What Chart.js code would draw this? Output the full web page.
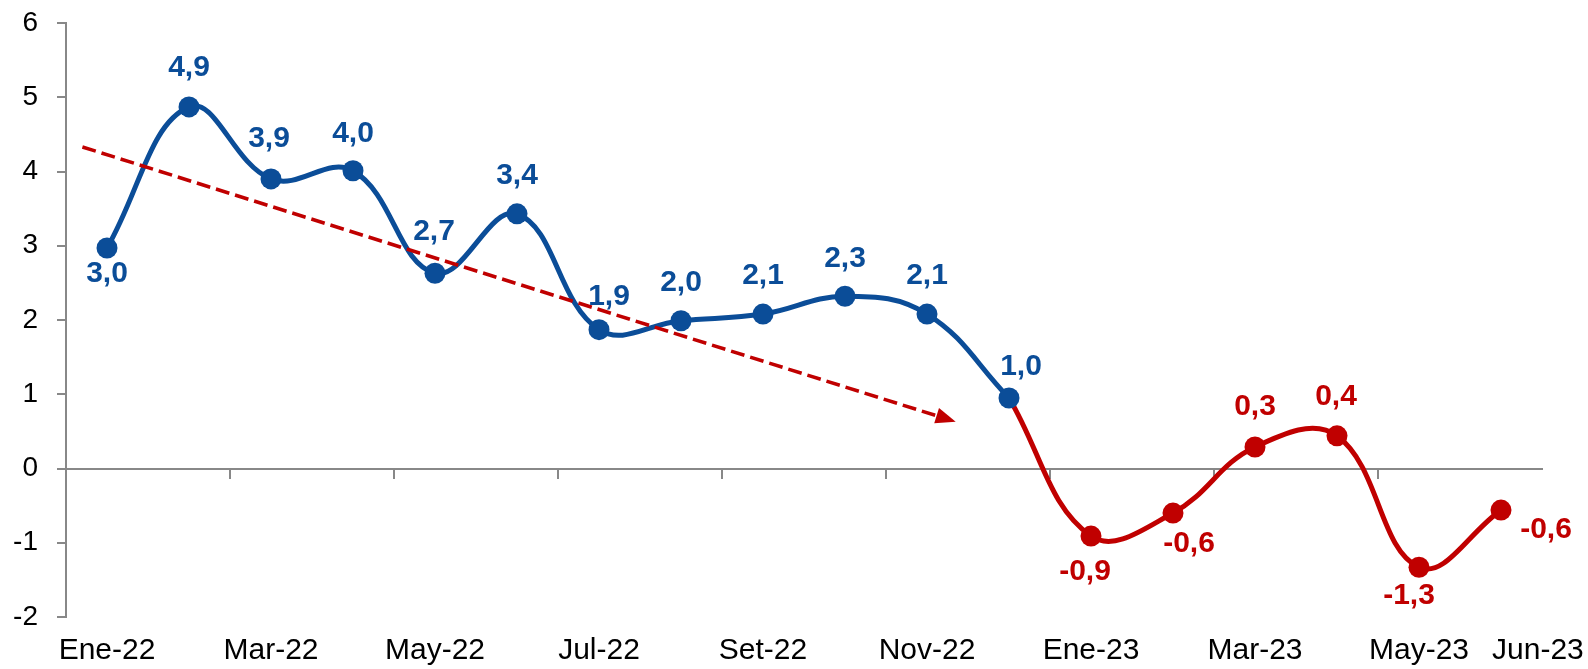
<!DOCTYPE html>
<html>
<head>
<meta charset="utf-8">
<script src="https://cdn.jsdelivr.net/npm/chart.js@4/dist/chart.umd.min.js"></script>
<style>
  html, body { margin: 0; padding: 0; background: #fff; }
  #wrap { width: 1588px; height: 669px; }
</style>
</head>
<body>
<div id="wrap"><canvas id="chart"></canvas></div>
<script>
// Months on the category axis
const months = ['Ene-22', 'Feb-22', 'Mar-22', 'Abr-22', 'May-22', 'Jun-22', 'Jul-22', 'Ago-22',
  'Set-22', 'Oct-22', 'Nov-22', 'Dic-22', 'Ene-23', 'Feb-23', 'Mar-23', 'Abr-23', 'May-23', 'Jun-23'];

// Values (blue part: Ene-22..Dic-22, red part: Ene-23..Jun-23)
const values2022 = [2.97, 4.87, 3.90, 4.01, 2.63, 3.43, 1.87, 1.99, 2.08, 2.32, 2.08, 0.95];
const values2023 = [-0.91, -0.60, 0.29, 0.44, -1.33, -0.56];

// Printed value labels
const pointLabels = ['3,0', '4,9', '3,9', '4,0', '2,7', '3,4', '1,9', '2,0', '2,1', '2,3', '2,1', '1,0',
  '-0,9', '-0,6', '0,3', '0,4', '-1,3', '-0,6'];

// Where the bottom month labels sit (category index; Jun-23 is nudged right as in the original)
const monthTickSpots = [0, 2, 4, 6, 8, 10, 12, 14, 16, 17.45];

// Dashed trend arrow, start and end in (category index, value)
const trendStart = [-0.3, 4.33];
const trendEnd = [10.35, 0.63];

// Label offsets from each point, px
const labelOffsets = [[0, 26], [0, -39], [-2, -40], [0, -37], [-1, -41], [0, -38], [10, -33], [0, -38],
  [0, -38], [0, -38], [0, -38], [12, -31], [-6, 36], [16, 31], [0, -40], [-1, -39], [-10, 28], [45, 20]];

const BLUE = '#0B4D98';
const RED = '#C00000';
const AXIS = '#888888';

Chart.defaults.font.family = '"Liberation Sans", Arial, sans-serif';

const blueData = months.map((m, i) => i < values2022.length ? values2022[i] : null);
const redData = months.map((m, i) => {
  if (i < values2022.length - 1) return null;
  if (i === values2022.length - 1) return values2022[i];
  return values2023[i - values2022.length];
});

const overlay = {
  id: 'overlay',
  afterDatasetsDraw(chart) {
    const { ctx, scales: { x, y } } = chart;

    // trend arrow
    const x1 = x.getPixelForValue(trendStart[0]), y1 = y.getPixelForValue(trendStart[1]);
    const x2 = x.getPixelForValue(trendEnd[0]), y2 = y.getPixelForValue(trendEnd[1]);
    const ang = Math.atan2(y2 - y1, x2 - x1);
    const head = 20, half = 8;
    ctx.save();
    ctx.strokeStyle = RED;
    ctx.fillStyle = RED;
    ctx.lineWidth = 3.5;
    ctx.setLineDash([14, 6]);
    ctx.beginPath();
    ctx.moveTo(x1, y1);
    ctx.lineTo(x2 - Math.cos(ang) * head, y2 - Math.sin(ang) * head);
    ctx.stroke();
    ctx.setLineDash([]);
    ctx.beginPath();
    ctx.moveTo(x2, y2);
    ctx.lineTo(x2 - Math.cos(ang) * head - Math.sin(ang) * half, y2 - Math.sin(ang) * head + Math.cos(ang) * half);
    ctx.lineTo(x2 - Math.cos(ang) * head + Math.sin(ang) * half, y2 - Math.sin(ang) * head - Math.cos(ang) * half);
    ctx.closePath();
    ctx.fill();

    // value labels
    ctx.font = 'bold 30px "Liberation Sans", Arial, sans-serif';
    ctx.textAlign = 'center';
    ctx.textBaseline = 'middle';
    const all = values2022.concat(values2023);
    all.forEach((v, i) => {
      ctx.fillStyle = i < values2022.length ? BLUE : RED;
      ctx.fillText(pointLabels[i], x.getPixelForValue(i) + labelOffsets[i][0], y.getPixelForValue(v) + labelOffsets[i][1]);
    });
    ctx.restore();
  }
};

new Chart(document.getElementById('chart'), {
  type: 'line',
  data: {
    labels: months,
    datasets: [
      {
        data: blueData,
        borderColor: BLUE,
        backgroundColor: BLUE,
        borderWidth: 5,
        pointRadius: 10.5,
        pointBorderWidth: 0,
        tension: 0.4,
        order: 0
      },
      {
        data: redData,
        borderColor: RED,
        backgroundColor: RED,
        borderWidth: 5,
        pointRadius: months.map((m, i) => i < values2022.length ? 0 : 10.5),
        pointBorderWidth: 0,
        tension: 0.4,
        order: 1
      }
    ]
  },
  options: {
    responsive: true,
    maintainAspectRatio: false,
    animation: false,
    layout: { padding: { left: 0, right: 46, top: 23, bottom: 0 } },
    plugins: { legend: { display: false }, tooltip: { enabled: false } },
    scales: {
      x: {
        type: 'category',
        position: { y: 0 },
        offset: true,
        grid: {
          offset: true,
          drawOnChartArea: false,
          tickLength: 9,
          lineWidth: 2,
          color: c => c.index % 2 === 0 ? AXIS : 'rgba(0,0,0,0)'
        },
        border: { color: AXIS, width: 2 },
        ticks: { display: false, autoSkip: false }
      },
      xl: {
        type: 'linear',
        position: 'bottom',
        min: -0.5,
        max: 17.5,
        afterBuildTicks: s => { s.ticks = monthTickSpots.map(v => ({ value: v })); },
        afterFit: s => { s.height = 52; s.paddingLeft = 0; s.paddingRight = 0; },
        grid: { display: false, drawTicks: false },
        border: { display: false },
        ticks: {
          autoSkip: false,
          maxRotation: 0,
          padding: 16,
          color: '#000',
          font: { size: 30 },
          callback: v => months[Math.round(v)]
        }
      },
      y: {
        min: -2,
        max: 6,
        afterFit: s => { s.width = 66; s.paddingTop = 0; s.paddingBottom = 0; },
        grid: { drawOnChartArea: false, tickLength: 9, lineWidth: 2, color: AXIS },
        border: { color: AXIS, width: 2 },
        ticks: {
          stepSize: 1,
          padding: 19,
          color: '#000',
          font: { size: 28 },
          callback: v => String(v)
        }
      }
    }
  },
  plugins: [overlay]
});
</script>
</body>
</html>
